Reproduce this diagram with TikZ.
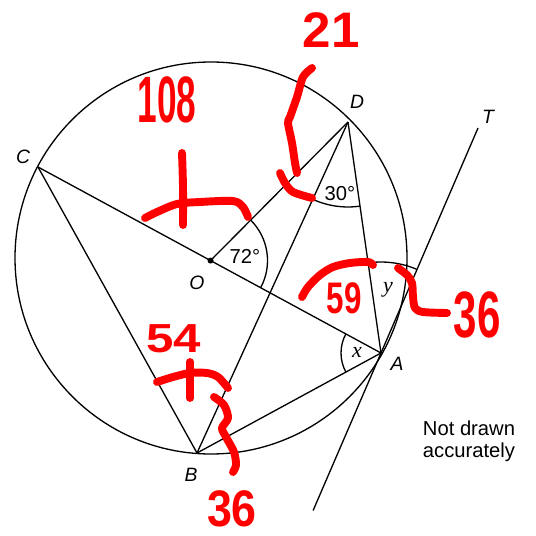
\documentclass[tikz,border=0pt]{standalone}
\usepackage{fontspec}
\setmainfont{Liberation Sans}
\newfontfamily\timesfont{Liberation Serif}
\usetikzlibrary{angles,calc}
\newlength\pxu
\setlength\pxu{0.5669pt}
\newcommand\handnum[3]{\resizebox{#1\pxu}{#2\pxu}{\bfseries #3}}

\begin{document}
\begin{tikzpicture}[x=0.02cm,y=-0.02cm,line width=0.75pt,
  ptlabel/.style={font=\fontsize{11}{13}\selectfont\itshape},
  anglabel/.style={font=\fontsize{11.5}{13}\selectfont},
  varlabel/.style={font=\timesfont\itshape\fontsize{12.5}{14}\selectfont},
  redpen/.style={red,line width=4.5pt,line cap=round,line join=round},
  rednum/.style={text=red,inner sep=0pt}]
  \useasboundingbox (0,0) rectangle (536,536);
  \coordinate (M) at (211,258);
  \coordinate (C) at (38,167); \coordinate (D) at (348,122);
  \coordinate (A) at (381,353); \coordinate (B) at (197,453);
  \coordinate (O) at ($(C)!0.503!(A)$);
  \coordinate (T) at (478,128); \coordinate (Tb) at ($(T)!1.7!(A)$);
  \draw (M) circle[radius=196];
  \draw (C) -- (A); \draw (O) -- (D); \draw (D) -- (B); \draw (D) -- (A);
  \draw (C) -- (B); \draw (B) -- (A); \draw (T) -- (Tb);
  \fill (O) circle[radius=3];
  \pic[draw,angle radius=1.14cm] {angle=A--O--D};
  \pic[draw,angle radius=1.7cm] {angle=B--D--A};
  \pic[draw,angle radius=0.8cm] {angle=C--A--B};
  \pic[draw,angle radius=1.82cm] {angle=T--A--D};
  \node[ptlabel] (lC) at (23,157) {C};
  \node[ptlabel] (lD) at (357,102) {D};
  \node[ptlabel] (lT) at (488,117) {T};
  \node[ptlabel] (lO) at (197,283) {O};
  \node[ptlabel] (lB) at (191,475) {B};
  \node[ptlabel] (lA) at (397,364) {A};
  \node[anglabel] (l72) at (245,256) {72°};
  \node[anglabel] (l30) at (340,194) {30°};
  \node[varlabel] (lx) at (357,352) {x};
  \node[varlabel] (ly) at (388,290) {y};
  \node[align=center,font=\fontsize{11.5}{12.5}\selectfont] (note) at (469,441) {Not drawn\\accurately};
  \draw[redpen] plot[smooth] coordinates {(182,153) (183,187) (183,225)};
  \draw[redpen] plot[smooth] coordinates {(145,218) (157,212) (177,204) (200,202) (233,201) (243,207) (248,217)};
  \draw[redpen] plot[smooth] coordinates {(312,68) (303,77) (297,97) (290,117) (288,123) (292,143) (295,163) (297,173)};
  \draw[redpen] plot[smooth] coordinates {(280,173) (285,183) (293,192) (312,198)};
  \draw[redpen] plot[smooth] coordinates {(302,297) (308,287) (320,275) (333,267) (350,263) (368,262) (373,265)};
  \draw[redpen] plot[smooth] coordinates {(398,268) (407,275) (412,283) (413,297) (415,308) (423,312) (447,313)};
  \draw[redpen] plot[smooth] coordinates {(157,382) (173,377) (190,373) (207,373) (218,377) (228,388)};
  \draw[redpen] plot[smooth] coordinates {(190,362) (190,380) (190,398)};
  \draw[redpen] plot[smooth] coordinates {(214,397) (224,405) (228,418) (222,428) (226,437) (234,452) (236,465) (233,472)};
  \node[rednum] (n108) at (167,100) {\handnum{59}{46}{108}};
  \node[rednum] (n21) at (331,30) {\handnum{57}{35}{21}};
  \node[rednum] (n59) at (344,298) {\handnum{35}{31}{59}};
  \node[rednum] (n54) at (174,339) {\handnum{55}{28}{54}};
  \node[rednum] (n36r) at (477,315) {\handnum{47}{46}{36}};
  \node[rednum] (n36b) at (232,509) {\handnum{50}{36}{36}};
\end{tikzpicture}
\end{document}
